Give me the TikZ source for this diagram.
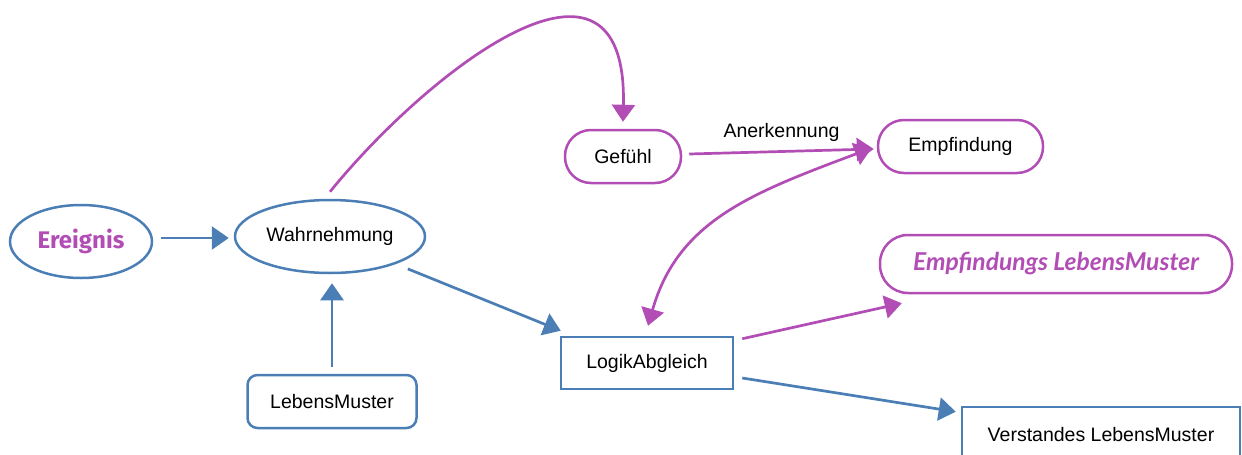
\documentclass[tikz,border=0pt]{standalone}
\usepackage{fontspec}
\setmainfont{Liberation Sans}
\newfontfamily\ereigfont{Fira Sans}
\newfontfamily\latofont{Lato}
\usetikzlibrary{arrows.meta,shapes.geometric}
\definecolor{bl}{RGB}{74,126,180}
\definecolor{pu}{RGB}{178,77,182}
\begin{document}
\begin{tikzpicture}[x=0.5pt,y=-0.5pt,
  every node/.style={font=\fontsize{9.75pt}{11pt}\selectfont, text=black, inner sep=0pt},
  ell/.style={ellipse, draw=bl, line width=1.25pt},
  rbox/.style={rectangle, rounded corners=5pt, draw=bl, line width=1.25pt},
  sbox/.style={rectangle, draw=bl, line width=1.25pt},
  pill/.style={rectangle, rounded corners=13pt, draw=pu, line width=1.25pt},
  barr/.style={draw=bl, line width=1.35pt, -{Triangle[length=8.5pt,width=11.5pt]}},
  parr/.style={draw=pu, line width=1.35pt, -{Triangle[length=8.5pt,width=11.5pt]}}
]
\useasboundingbox (0,0) rectangle (1242,455);
\clip (0,0) rectangle (1242,455);

\node[ell, minimum width=71pt, minimum height=36.5pt] (ereignis) at (81,241.5)
  {\ereigfont\bfseries\fontsize{12pt}{14pt}\selectfont\color{pu}Ereignis};
\node[ell, minimum width=95pt, minimum height=36.5pt] (wahr) at (330,236.5) {Wahrnehmung};
\node[rbox, minimum width=84.5pt, minimum height=26.5pt] (lebens) at (332,401.5) {LebensMuster};
\node[pill, minimum width=58pt, minimum height=26.5pt] (gef) at (623,156.5) {Gefühl};
\node[pill, minimum width=82.5pt, minimum height=26.5pt] (empf) at (960.5,146.5) {Empfindung};
\node[pill, rounded corners=14pt, minimum width=176pt, minimum height=29pt] (elm) at (1056,264)
  {\latofont\bfseries\itshape\fontsize{12.3pt}{14pt}\selectfont\color{pu}Empfindungs LebensMuster};
\node[sbox, minimum width=86pt, minimum height=26pt] (logik) at (647,363) {LogikAbgleich};
\node[sbox, minimum width=139pt, minimum height=28pt] (verst) at (1101,435) {Verstandes LebensMuster};

% blue connectors
\draw[barr] ([xshift=4pt,yshift=1.75pt]ereignis.east) -- ([xshift=-2.5pt,yshift=-0.75pt]wahr.west);
\draw[barr] ([yshift=3.5pt]lebens.north) -- ([xshift=1pt,yshift=-4.5pt]wahr.south);
\draw[barr] ([xshift=4.9pt,yshift=-2.85pt]wahr.south east) -- ([xshift=0.5pt,yshift=2.5pt]logik.north west);
\draw[barr] ([xshift=4pt,yshift=-7.5pt]logik.east) -- ([xshift=-2.5pt,yshift=-3pt]verst.north west);

% purple connectors
\draw[parr] ([yshift=3.5pt]wahr.north) .. controls +(100,-123) and +(5,-205) .. ([yshift=3.5pt]gef.north);
\draw[parr] ([xshift=3.5pt,yshift=1.25pt]gef.east) -- node[above=4.5pt, pos=0.5] (anerk) {Anerkennung} ([xshift=-1.5pt,yshift=-1.25pt]empf.west);
\draw[parr, {Triangle[length=8.5pt,width=11.5pt]}-{Triangle[length=8.5pt,width=11.5pt]}]
  ([xshift=0.5pt,yshift=5pt]logik.north) .. controls +(30,-105) and +(-120,45) .. ([xshift=-2.5pt,yshift=-0.75pt]empf.west);
\draw[parr] ([xshift=4pt,yshift=-1.5pt]logik.north east) -- ([xshift=11.5pt,yshift=-4.5pt]elm.south west);
\end{tikzpicture}
\end{document}
